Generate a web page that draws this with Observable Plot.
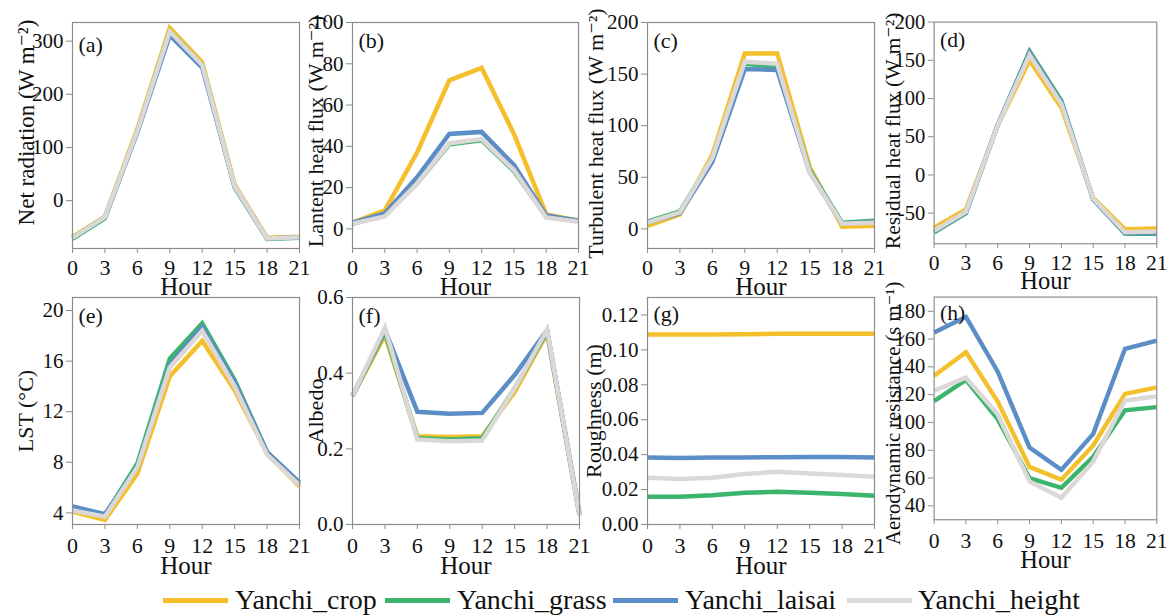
<!DOCTYPE html>
<html>
<head>
<meta charset="utf-8">
<script src="https://cdn.jsdelivr.net/npm/d3@7"></script>
<script src="https://cdn.jsdelivr.net/npm/@observablehq/plot@0.6"></script>
<style>
html, body { margin: 0; padding: 0; background: #fff; }
#root { position: relative; width: 1172px; height: 615px; overflow: hidden; font-family: "Liberation Serif", Tinos, "Times New Roman", Times, "DejaVu Serif", serif; }
.panel { position: absolute; }
.panel svg, .panel svg text { font-family: "Liberation Serif", Tinos, "Times New Roman", Times, "DejaVu Serif", serif !important; }
.sw { position: absolute; height: 5px; width: 65px; }
.lt { position: absolute; font-size: 28px; line-height: 28px; color: #111; white-space: nowrap; }
</style>
</head>
<body>
<div id="root"></div>
<script>
// ---------- data ----------
const hours = [0, 3, 6, 9, 12, 15, 18, 21];
const hourTicks = [0, 3, 6, 9, 12, 15, 18, 21];
const seriesNames = ["Yanchi_crop", "Yanchi_grass", "Yanchi_laisai", "Yanchi_height"];

// (a) Net radiation
const rnCrop   = [-68, -30, 135, 325, 260, 30, -70, -68];
const rnGrass  = [-72, -33, 130, 318, 255, 25, -72, -70];
const rnLaisai = [-70, -31, 128, 311, 250, 26, -71, -69];
const rnHeight = [-70, -31, 131, 318, 255, 27, -71, -69];
const rnTicks = [0, 100, 200, 300];

// (b) Latent heat flux
const leCrop   = [3, 9, 37, 72, 78, 46, 7, 4];
const leGrass  = [2.5, 6.5, 22, 41, 43, 28, 6, 4];
const leLaisai = [3, 7.5, 25, 46, 47, 31, 6.5, 4];
const leHeight = [2.5, 6, 22, 41.5, 43.5, 28.5, 5.5, 3.5];
const leTicks = [0, 20, 40, 60, 80, 100];

// (c) Turbulent heat flux
const thCrop   = [3, 14, 72, 170, 170, 60, 2, 3];
const thGrass  = [7, 17, 68, 160, 157, 57, 6, 8];
const thLaisai = [6, 15, 65, 155, 154, 55, 5, 7];
const thHeight = [6, 16, 69, 162, 160, 55, 5, 6];
const thTicks = [0, 50, 100, 150, 200];

// (d) Residual heat flux
const rhCrop   = [-69, -45, 65, 150, 88, -30, -71, -70];
const rhGrass  = [-75, -50, 65, 162, 97, -32, -77, -77];
const rhLaisai = [-74, -49, 66, 160, 95, -32, -76, -76];
const rhHeight = [-73, -48, 65, 157, 93, -31, -75, -74];
const rhTicks = [-50, 0, 50, 100, 150, 200];

// (e) LST
const lstCrop   = [4.1, 3.45, 7.1, 14.8, 17.6, 13.7, 8.7, 6.1];
const lstGrass  = [4.3, 3.8, 7.9, 16.2, 19.0, 14.5, 8.8, 6.3];
const lstLaisai = [4.5, 3.9, 7.6, 15.7, 18.7, 14.3, 8.8, 6.4];
const lstHeight = [4.2, 3.7, 7.6, 15.5, 18.4, 14.0, 8.6, 6.2];
const lstTicks = [4, 8, 12, 16, 20];

// (f) Albedo
const alCrop   = [0.34, 0.50, 0.233, 0.231, 0.233, 0.35, 0.505, 0.025];
const alGrass  = [0.34, 0.51, 0.228, 0.225, 0.228, 0.36, 0.51, 0.025];
const alLaisai = [0.34, 0.515, 0.298, 0.293, 0.295, 0.395, 0.514, 0.03];
const alHeight = [0.34, 0.52, 0.225, 0.22, 0.222, 0.36, 0.515, 0.025];
const alTicks = [0, 0.2, 0.4, 0.6];

// (g) Roughness
const zCrop   = [0.1088, 0.1088, 0.1088, 0.109, 0.1092, 0.1092, 0.1092, 0.1092];
const zGrass  = [0.0159, 0.0159, 0.0168, 0.0182, 0.0187, 0.0182, 0.0174, 0.0164];
const zLaisai = [0.0383, 0.0381, 0.0383, 0.0384, 0.0385, 0.0386, 0.0386, 0.0384];
const zHeight = [0.0268, 0.026, 0.0268, 0.0289, 0.0302, 0.0292, 0.0283, 0.0273];
const zTicks = [0, 0.02, 0.04, 0.06, 0.08, 0.10, 0.12];

// (h) Aerodynamic resistance
const raCrop   = [133.6, 150.6, 115, 68, 58.8, 83.5, 120.5, 125.2];
const raGrass  = [115.3, 130.6, 102.4, 60, 53, 75.3, 108.7, 111];
const raLaisai = [164.7, 176, 136.5, 81.9, 65.9, 91.8, 153, 158.8];
const raHeight = [122.8, 132.2, 105.9, 57.6, 45.9, 71.8, 115.8, 118.8];
const raTicks = [40, 60, 80, 100, 120, 140, 160, 180];

// ---------- styling ----------
const colors = ["#F4BF2B", "#3BB46C", "#5B8EC6", "#DCD8D8"];
const axisGray = "#8c8c8c";
const FONT = '"Liberation Serif", Tinos, "Times New Roman", Times, "DejaVu Serif", serif';

const panels = [
  {key: "(a)", series: [rnCrop, rnGrass, rnLaisai, rnHeight], ticks: rnTicks, domain: [-90, 335], fmt: d => String(d),
   label: "Net radiation (W m⁻²)", fx: 72, fy: 22, w: 227, h: 226, row: 0, ldx: -46, ldy: -13, lsize: 23, kdy: 14},
  {key: "(b)", series: [leCrop, leGrass, leLaisai, leHeight], ticks: leTicks, domain: [-9.5, 100], fmt: d => String(d),
   label: "Lantent heat flux (W m⁻²)", fx: 352, fy: 22, w: 226, h: 226, row: 0, ldx: -37, ldy: -4, lsize: 22, kdy: 10},
  {key: "(c)", series: [thCrop, thGrass, thLaisai, thHeight], ticks: thTicks, domain: [-19, 200], fmt: d => String(d),
   label: "Turbulent heat flux (W m⁻²)", fx: 647, fy: 22, w: 227, h: 226, row: 0, ldx: -52, ldy: -2, lsize: 22, kdy: 10},
  {key: "(d)", series: [rhCrop, rhGrass, rhLaisai, rhHeight], ticks: rhTicks, domain: [-90, 200], fmt: d => String(d),
   label: "Residual heat flux (W m⁻²)", fx: 935, fy: 22, w: 227, h: 226, row: 0, ldx: -42, ldy: -2, lsize: 22, kdy: 10},
  {key: "(e)", series: [lstCrop, lstGrass, lstLaisai, lstHeight], ticks: lstTicks, domain: [3.08, 21.03], fmt: d => String(d),
   label: "LST (°C)", fx: 72, fy: 297, w: 227, h: 227, row: 1, ldx: -47, ldy: 0, lsize: 22, kdy: 10},
  {key: "(f)", series: [alCrop, alGrass, alLaisai, alHeight], ticks: alTicks, domain: [0, 0.6], fmt: d => d.toFixed(1),
   label: "Albedo", fx: 352, fy: 297, w: 227, h: 227, row: 1, ldx: -37, ldy: 0, lsize: 22, kdy: 10},
  {key: "(g)", series: [zCrop, zGrass, zLaisai, zHeight], ticks: zTicks, domain: [0, 0.130], fmt: d => d.toFixed(2),
   label: "Roughness (m)", fx: 647, fy: 297, w: 227, h: 227, row: 1, ldx: -54, ldy: 0, lsize: 22, kdy: 8},
  {key: "(h)", series: [raCrop, raGrass, raLaisai, raHeight], ticks: raTicks, domain: [30, 190.2], fmt: d => String(d),
   label: "Aerodynamic resistance (s m⁻¹)", fx: 935, fy: 297, w: 227, h: 227, row: 1, ldx: -41, ldy: 5, lsize: 21, kdy: 8}
];

const root = document.getElementById("root");
const mL = 72, mR = 16, mT = 22, mB = 58;

for (const p of panels) {
  const data = [];
  p.series.forEach((vals, i) => vals.forEach((v, j) => data.push({hour: hours[j], value: v, site: seriesNames[i]})));
  const chart = Plot.plot({
    width: mL + p.w + mR,
    height: mT + p.h + mB,
    marginLeft: mL, marginRight: mR, marginTop: mT, marginBottom: mB,
    style: {background: "transparent", fontFamily: FONT, color: "#111", overflow: "visible"},
    x: {domain: [0, 21]},
    y: {domain: p.domain},
    color: {domain: seriesNames, range: colors},
    marks: [
      Plot.line(data, {x: "hour", y: "value", z: "site", stroke: "site", strokeWidth: 4.5,
        strokeLinejoin: "miter", strokeMiterlimit: 4, strokeLinecap: "butt"}),
      Plot.frame({stroke: axisGray, strokeWidth: 1.2}),
      Plot.axisX({ticks: hourTicks, tickSize: 5, tickPadding: p.row ? 8 : 6, fontSize: 22,
        stroke: axisGray, fill: "#111", label: null, tickFormat: d => String(d)}),
      Plot.axisY({ticks: p.ticks, tickSize: 6, tickPadding: 3, fontSize: 21,
        stroke: axisGray, fill: "#111", label: null, tickFormat: p.fmt}),
      Plot.text([p.key], {text: d => d, frameAnchor: "top-left", dx: 6, dy: p.kdy, lineAnchor: "top", fontSize: 22, fill: "#111"}),
      Plot.text(["Hour"], {text: d => d, frameAnchor: "bottom", dy: p.row ? 41 : 38, lineAnchor: "middle", fontSize: 25, fill: "#111"}),
      Plot.text([p.label], {text: d => d, frameAnchor: "left", rotate: -90, dx: p.ldx, dy: p.ldy, lineAnchor: "middle",
        textAnchor: "middle", fontSize: p.lsize, fill: "#111"})
    ]
  });
  const div = document.createElement("div");
  div.className = "panel";
  div.style.left = (p.fx - mL) + "px";
  div.style.top = (p.fy - mT) + "px";
  div.appendChild(chart);
  root.appendChild(div);
}

// ---------- legend ----------
const legendSwatchX = [163, 385, 613, 847];
const legendTextX = [235, 457, 685, 918];
seriesNames.forEach((name, i) => {
  const sw = document.createElement("div");
  sw.className = "sw";
  sw.style.left = legendSwatchX[i] + "px";
  sw.style.top = "598px";
  sw.style.background = colors[i];
  root.appendChild(sw);
  const t = document.createElement("div");
  t.className = "lt";
  t.style.left = legendTextX[i] + "px";
  t.style.top = "586px";
  t.textContent = name;
  root.appendChild(t);
});
</script>
</body>
</html>
